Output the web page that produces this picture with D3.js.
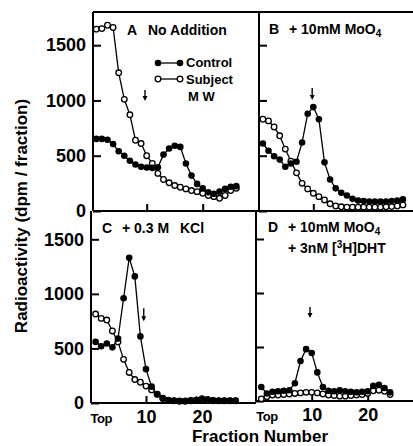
<!DOCTYPE html>
<html>
<head>
<meta charset="utf-8">
<script src="https://cdn.jsdelivr.net/npm/d3@7"></script>
<style>
  body { margin: 0; background: #fff; }
  text { font-family: "Liberation Sans", Arial, sans-serif; font-weight: bold; fill: #000; }
</style>
</head>
<body>
<div id="chart"></div>
<script>
// fraction numbers (x) and radioactivity values (dpm / fraction)
const fractions = [1, 2, 3, 4, 5, 6, 7, 8, 9, 10, 11, 12, 13, 14, 15, 16, 17, 18, 19, 20, 21, 22, 23, 24, 25, 26];

const aControl = [652, 652, 645, 605, 540, 500, 455, 420, 400, 394, 390, 395, 510, 565, 590, 580, 430, 320, 245, 205, 170, 155, 175, 200, 220, 225];
const aSubject = [1645, 1650, 1680, 1660, 1250, 1010, 870, 640, 610, 500, 430, 340, 285, 255, 230, 215, 200, 185, 175, 160, 140, 130, 115, 140, 185, 205];

const bControl = [610, 545, 495, 465, 400, 430, 445, 620, 880, 940, 830, 440, 285, 205, 165, 140, 110, 95, 90, 85, 85, 85, 85, 90, 95, 105];
const bSubject = [830, 815, 760, 680, 560, 450, 345, 250, 200, 160, 130, 100, 65, 45, 38, 35, 35, 35, 35, 35, 35, 35, 38, 40, 45, 55];

const cControl = [560, 520, 545, 510, 590, 960, 1330, 1160, 610, 310, 150, 80, 40, 25, 20, 20, 20, 25, 30, 40, 35, 25, 20, 20, 20, 20];
const cSubject = [815, 775, 760, 660, 560, 400, 280, 215, 190, 155, 120, 80, 45, 25, 20, 15, 15, 20, 25, 30, 25, 20, 20, 20, 20, 20];

const dControl = [130, 70, 85, 90, 95, 100, 165, 370, 480, 445, 265, 130, 95, 90, 100, 90, 85, 80, 85, 90, 140, 150, 120, 80];
const dSubject = [20, 40, 55, 55, 60, 65, 70, 75, 80, 80, 75, 65, 55, 50, 45, 45, 50, 55, 60, 70, 95, 100, 90, 60];

// arrow marks: [fraction, top value, tip value]
const aArrow = [9.7, 1094, 995];
const bArrow = [9.8, 1112, 1004];
const cArrow = [9.6, 869, 750];
const dArrow = [9.7, 870, 768];

const yTicks = [0, 500, 1000, 1500];
const xTicks = [10, 20];

/** CONSTANTS */
const width = 413;
const height = 446;

const panels = [
  { left: 93, top: 12, bottom: 211, f0: 90.7, yMax: 1800, control: aControl, subject: aSubject, arrow: aArrow, yLabels: true, xLabels: false },
  { left: 259, top: 12, bottom: 211, f0: 257.3, yMax: 1800, control: bControl, subject: bSubject, arrow: bArrow, yLabels: false, xLabels: false },
  { left: 91, top: 212, bottom: 403, f0: 90, yMax: 1750, control: cControl, subject: cSubject, arrow: cArrow, yLabels: true, xLabels: true },
  { left: 256, top: 212, bottom: 401, f0: 255.7, yMax: 1750, control: dControl, subject: dSubject, arrow: dArrow, yLabels: false, xLabels: true }
];

const svg = d3.select("#chart")
  .append("svg")
  .attr("width", width)
  .attr("height", height);

// frame lines
const frame = [
  [93, 12, 413, 12],     // top border
  [93, 211, 413, 211],   // A/B bottom
  [91, 403, 256, 403],   // C bottom
  [256, 401, 413, 401],  // D bottom
  [93, 12, 93, 211],
  [259, 12, 259, 211],
  [91, 211, 91, 403],
  [256, 211, 256, 402]
];
svg.selectAll("line.frame")
  .data(frame)
  .join("line")
  .attr("class", "frame")
  .attr("x1", d => d[0]).attr("y1", d => d[1])
  .attr("x2", d => d[2]).attr("y2", d => d[3])
  .attr("stroke", "#000")
  .attr("stroke-width", 2);

panels.forEach(p => {
  const x = d3.scaleLinear().domain([0, 30]).range([p.f0, p.f0 + 168]);
  const y = d3.scaleLinear().domain([0, p.yMax]).range([p.bottom, p.top]);
  const g = svg.append("g");

  // y axis (inward ticks)
  const ya = g.append("g")
    .attr("transform", `translate(${p.left},0)`)
    .call(d3.axisLeft(y).tickValues(yTicks).tickSize(-8).tickSizeOuter(0).tickPadding(7)
      .tickFormat(p.yLabels ? d3.format("d") : ""));
  ya.select(".domain").remove();
  ya.selectAll(".tick line").attr("stroke-width", 2);
  ya.selectAll(".tick text").attr("font-size", 18).attr("font-family", null);

  // x axis (inward ticks)
  const xa = g.append("g")
    .attr("transform", `translate(0,${p.bottom})`)
    .call(d3.axisBottom(x).tickValues(xTicks).tickSize(-7).tickSizeOuter(0).tickPadding(7)
      .tickFormat(p.xLabels ? d3.format("d") : ""));
  xa.select(".domain").remove();
  xa.selectAll(".tick line").attr("stroke-width", 2);
  xa.selectAll(".tick text").attr("font-size", 18).attr("font-family", null);

  if (p.xLabels) {
    g.append("text")
      .attr("x", x(2))
      .attr("y", p.bottom + 20)
      .attr("text-anchor", "middle")
      .attr("font-size", 13)
      .attr("letter-spacing", -0.5)
      .text("Top");
  }

  const line = d3.line()
    .x((d, i) => x(fractions[i]))
    .y(d => y(d));

  // subject (open circles)
  g.append("path")
    .datum(p.subject)
    .attr("d", line)
    .attr("fill", "none")
    .attr("stroke", "#000")
    .attr("stroke-width", 1.3);
  g.selectAll("circle.subject")
    .data(p.subject)
    .join("circle")
    .attr("class", "subject")
    .attr("cx", (d, i) => x(fractions[i]))
    .attr("cy", d => y(d))
    .attr("r", 2.8)
    .attr("fill", "#fff")
    .attr("stroke", "#000")
    .attr("stroke-width", 1.3);

  // control (filled circles)
  g.append("path")
    .datum(p.control)
    .attr("d", line)
    .attr("fill", "none")
    .attr("stroke", "#000")
    .attr("stroke-width", 1.3);
  g.selectAll("circle.control")
    .data(p.control)
    .join("circle")
    .attr("class", "control")
    .attr("cx", (d, i) => x(fractions[i]))
    .attr("cy", d => y(d))
    .attr("r", 3.3)
    .attr("fill", "#000");

  // arrow
  const ax = x(p.arrow[0]), ay0 = y(p.arrow[1]), ay1 = y(p.arrow[2]);
  g.append("line")
    .attr("x1", ax).attr("x2", ax)
    .attr("y1", ay0).attr("y2", ay1 - 3)
    .attr("stroke", "#000")
    .attr("stroke-width", 1.4);
  g.append("path")
    .attr("d", `M${ax - 2.5},${ay1 - 5}L${ax + 2.5},${ay1 - 5}L${ax},${ay1}Z`)
    .attr("fill", "#000");
});

// panel titles
const titles = svg.append("g").attr("font-size", 14);
titles.append("text").attr("x", 127).attr("y", 35).text("A");
titles.append("text").attr("x", 148).attr("y", 35).text("No Addition");

const tb = titles.append("text").attr("x", 269).attr("y", 34);
tb.append("tspan").text("B");
tb.append("tspan").attr("x", 289).text("+ 10mM MoO");
tb.append("tspan").attr("font-size", 10).attr("dy", 3).text("4");

titles.append("text").attr("x", 102).attr("y", 233).text("C");
titles.append("text").attr("x", 122).attr("y", 233).text("+ 0.3 M");
titles.append("text").attr("x", 180).attr("y", 233).text("KCl");

const td = titles.append("text").attr("x", 268).attr("y", 232);
td.append("tspan").text("D");
td.append("tspan").attr("x", 288).text("+ 10mM MoO");
td.append("tspan").attr("font-size", 10).attr("dy", 3).text("4");
const td2 = titles.append("text").attr("x", 288).attr("y", 253);
td2.append("tspan").text("+ 3nM [");
td2.append("tspan").attr("font-size", 10).attr("dy", -5).text("3");
td2.append("tspan").attr("dy", 5).text("H]DHT");

// legend
const legend = svg.append("g").attr("font-size", 13);
legend.append("line").attr("x1", 158).attr("x2", 180).attr("y1", 63).attr("y2", 63).attr("stroke", "#000").attr("stroke-width", 1.3);
legend.selectAll("circle.lc").data([158, 180]).join("circle").attr("class", "lc")
  .attr("cx", d => d).attr("cy", 63).attr("r", 3.3).attr("fill", "#000");
legend.append("line").attr("x1", 158).attr("x2", 180).attr("y1", 79).attr("y2", 79).attr("stroke", "#000").attr("stroke-width", 1.3);
legend.selectAll("circle.ls").data([158, 180]).join("circle").attr("class", "ls")
  .attr("cx", d => d).attr("cy", 79).attr("r", 2.8).attr("fill", "#fff").attr("stroke", "#000").attr("stroke-width", 1.3);
legend.append("text").attr("x", 186).attr("y", 67).text("Control");
legend.append("text").attr("x", 186).attr("y", 84).text("Subject");
legend.append("text").attr("x", 188).attr("y", 101).text("M W");

// axis titles
svg.append("text")
  .attr("transform", "translate(27,216) rotate(-90)")
  .attr("text-anchor", "middle")
  .attr("font-size", 17)
  .text("Radioactivity (dpm / fraction)");

svg.append("text")
  .attr("x", 260)
  .attr("y", 442)
  .attr("text-anchor", "middle")
  .attr("font-size", 17)
  .text("Fraction Number");
</script>
</body>
</html>
